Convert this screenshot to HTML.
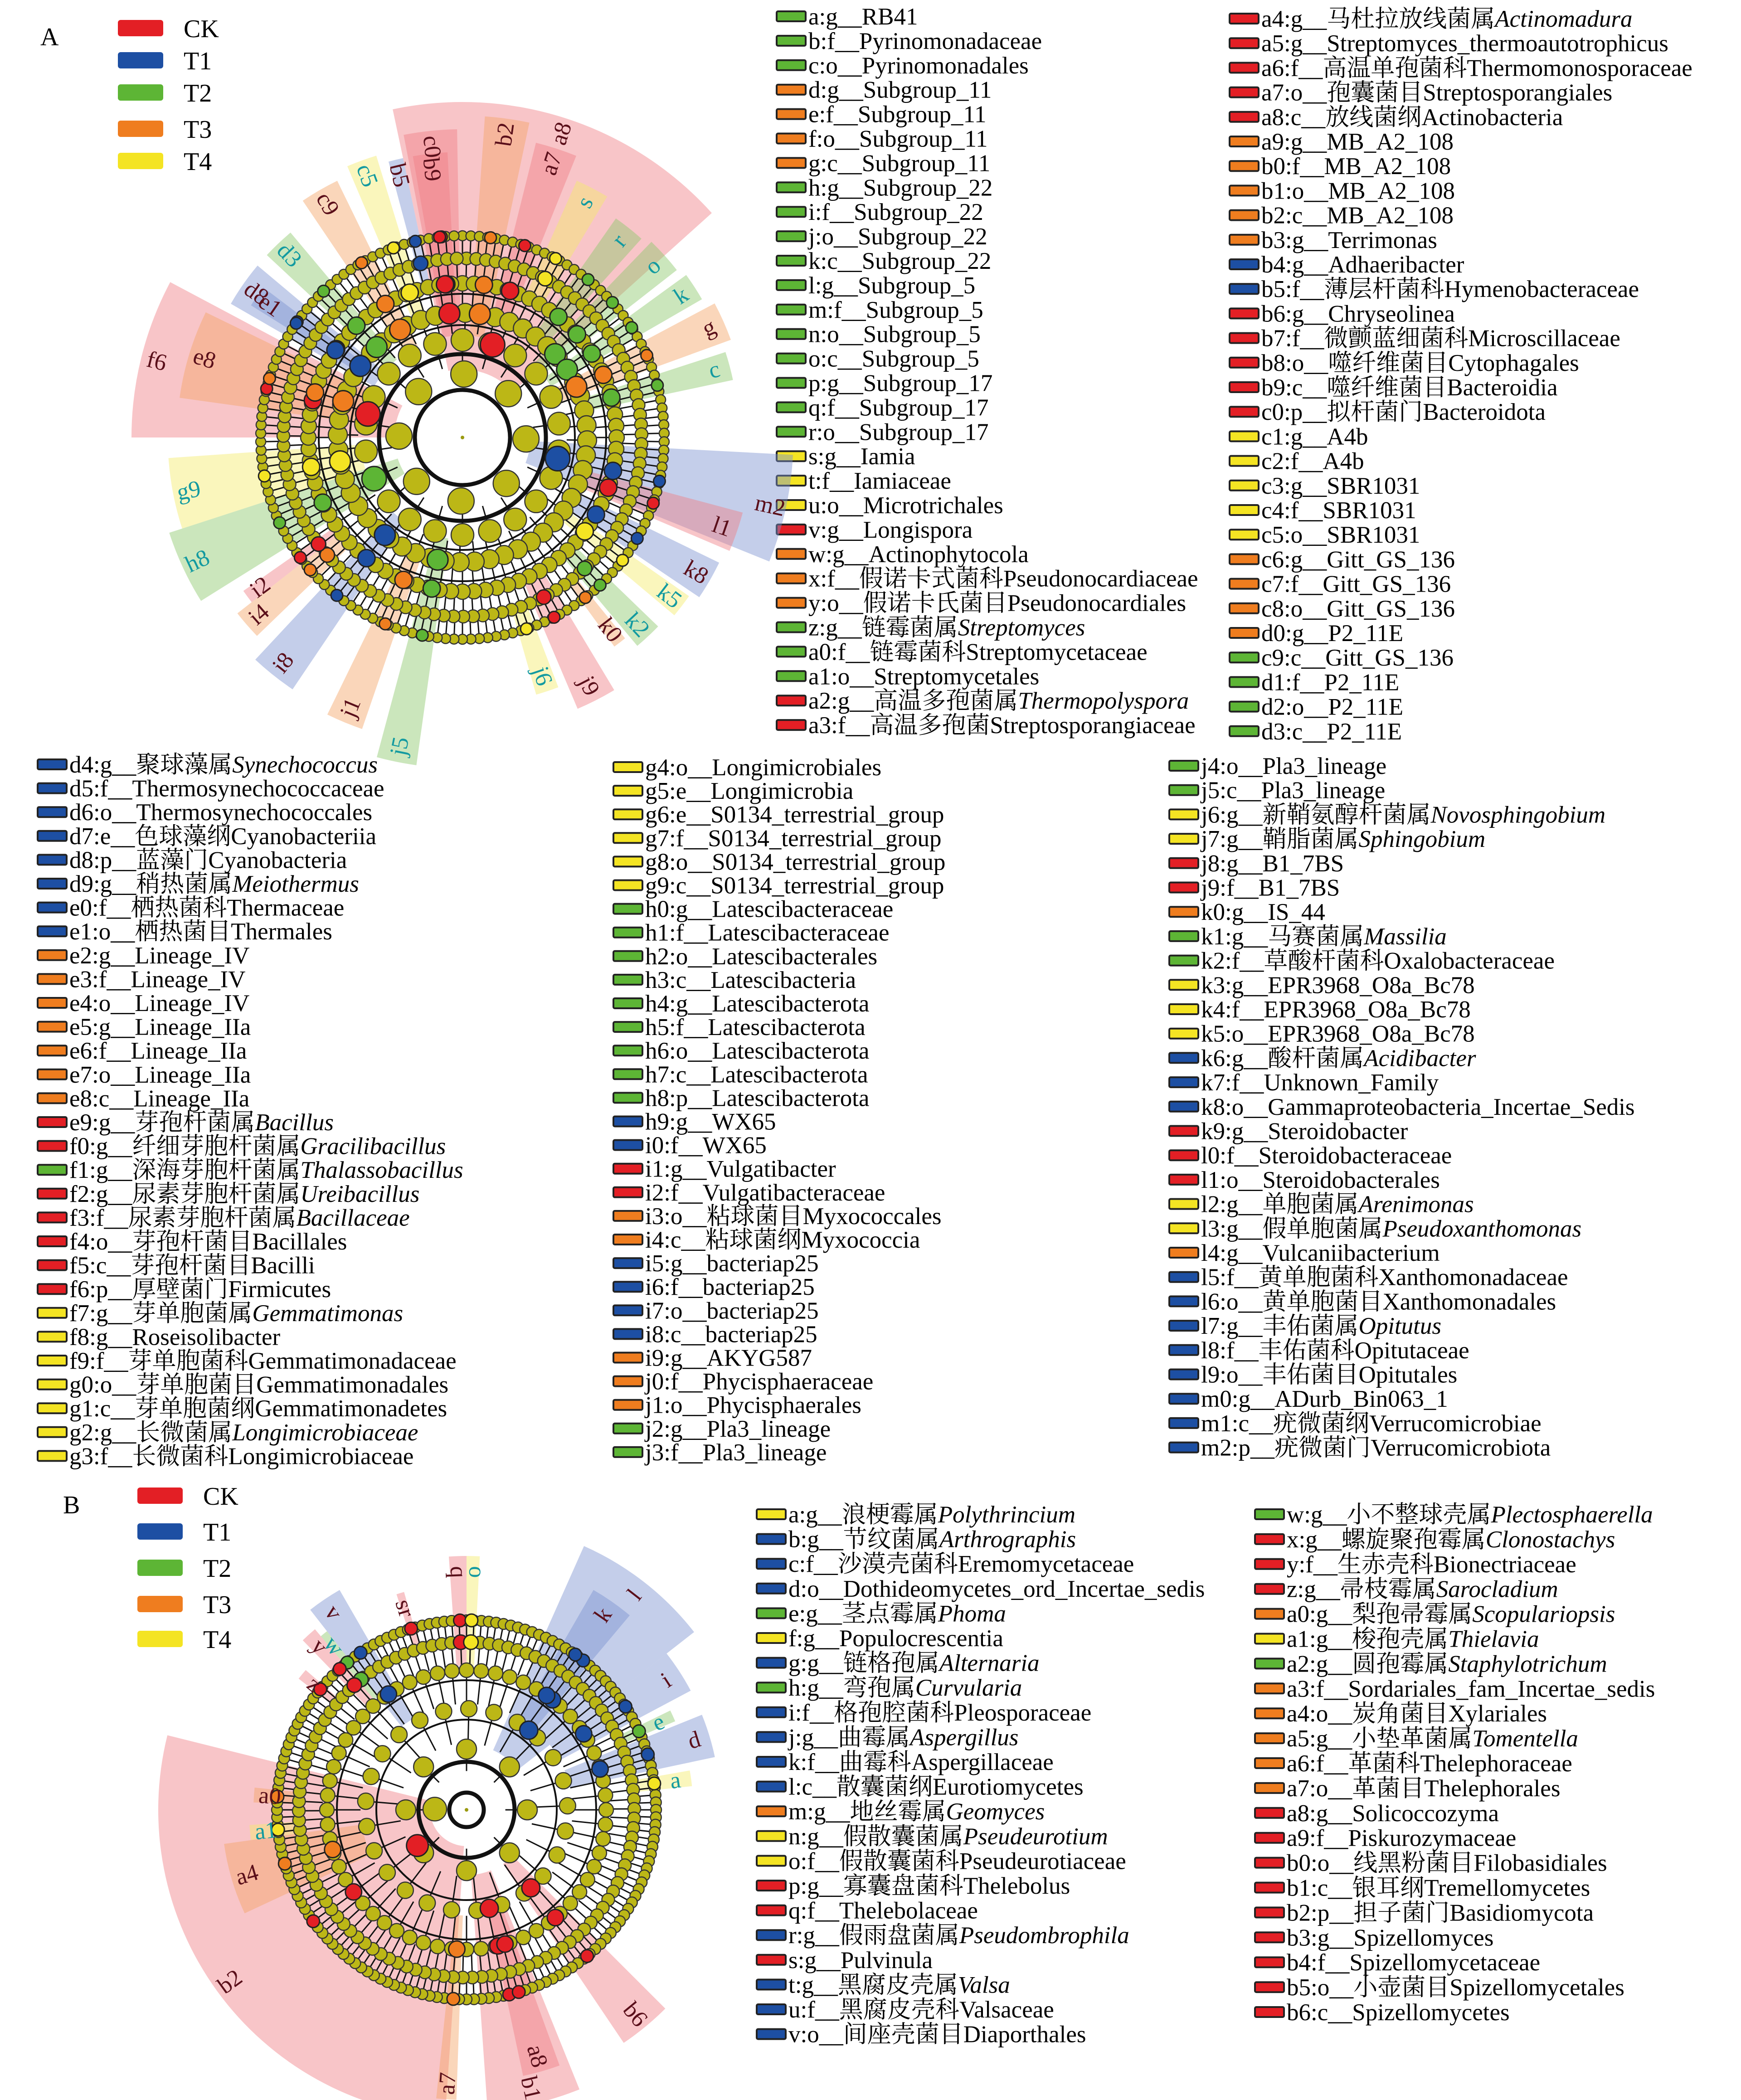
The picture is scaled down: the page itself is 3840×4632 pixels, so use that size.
<!DOCTYPE html>
<html><head><meta charset="utf-8">
<style>
html,body{margin:0;padding:0;background:#fff;}
svg{display:block;}
text{font-family:"Liberation Serif","Noto Serif CJK SC","Noto Sans CJK SC",serif;}
</style></head>
<body>
<svg id="fig" width="3840" height="4632" viewBox="0 0 3840 4632" xmlns="http://www.w3.org/2000/svg">
<rect x="0" y="0" width="3840" height="4632" fill="#fff"/>
<text x="89" y="100" font-size="56">A</text>
<text x="139" y="3338" font-size="56">B</text>
</svg>
<script>
const NS='http://www.w3.org/2000/svg';
const svg=document.getElementById('fig');
const COL={R:'#e31f25',B:'#1d4fa3',G:'#5db535',O:'#ef7d1f',Y:'#f4e423'};
const LIGHT={R:'#ef7f86',B:'#7d93d0',G:'#8cc86a',O:'#f4a366',Y:'#f4ec6a'};
const groupNames=['CK','T1','T2','T3','T4'];
const groupKeys=['R','B','G','O','Y'];

// ---------- legend list data ----------
const topCol1=["a:g__RB41","b:f__Pyrinomonadaceae","c:o__Pyrinomonadales","d:g__Subgroup_11","e:f__Subgroup_11","f:o__Subgroup_11","g:c__Subgroup_11","h:g__Subgroup_22","i:f__Subgroup_22","j:o__Subgroup_22","k:c__Subgroup_22","l:g__Subgroup_5","m:f__Subgroup_5","n:o__Subgroup_5","o:c__Subgroup_5","p:g__Subgroup_17","q:f__Subgroup_17","r:o__Subgroup_17","s:g__Iamia","t:f__Iamiaceae","u:o__Microtrichales","v:g__Longispora","w:g__Actinophytocola","x:f__假诺卡式菌科Pseudonocardiaceae","y:o__假诺卡氏菌目Pseudonocardiales","z:g__链霉菌属|Streptomyces","a0:f__链霉菌科Streptomycetaceae","a1:o__Streptomycetales","a2:g__高温多孢菌属|Thermopolyspora","a3:f__高温多孢菌Streptosporangiaceae"];
const topCol1C="GGGOOOOGGGGGGGGGGGYYYROOOGGGRR";
const topCol2=["a4:g__马杜拉放线菌属|Actinomadura","a5:g__Streptomyces_thermoautotrophicus","a6:f__高温单孢菌科Thermomonosporaceae","a7:o__孢囊菌目Streptosporangiales","a8:c__放线菌纲Actinobacteria","a9:g__MB_A2_108","b0:f__MB_A2_108","b1:o__MB_A2_108","b2:c__MB_A2_108","b3:g__Terrimonas","b4:g__Adhaeribacter","b5:f__薄层杆菌科Hymenobacteraceae","b6:g__Chryseolinea","b7:f__微颤蓝细菌科Microscillaceae","b8:o__噬纤维菌目Cytophagales","b9:c__噬纤维菌目Bacteroidia","c0:p__拟杆菌门Bacteroidota","c1:g__A4b","c2:f__A4b","c3:g__SBR1031","c4:f__SBR1031","c5:o__SBR1031","c6:g__Gitt_GS_136","c7:f__Gitt_GS_136","c8:o__Gitt_GS_136","d0:g__P2_11E","c9:c__Gitt_GS_136","d1:f__P2_11E","d2:o__P2_11E","d3:c__P2_11E"];
const topCol2C="RRRRROOOOOBBRRRRRYYYYYOOOOGGGG";
const midCol1=["d4:g__聚球藻属|Synechococcus","d5:f__Thermosynechococcaceae","d6:o__Thermosynechococcales","d7:e__色球藻纲Cyanobacteriia","d8:p__蓝藻门Cyanobacteria","d9:g__稍热菌属|Meiothermus","e0:f__栖热菌科Thermaceae","e1:o__栖热菌目Thermales","e2:g__Lineage_IV","e3:f__Lineage_IV","e4:o__Lineage_IV","e5:g__Lineage_IIa","e6:f__Lineage_IIa","e7:o__Lineage_IIa","e8:c__Lineage_IIa","e9:g__芽孢杆菌属|Bacillus","f0:g__纤细芽胞杆菌属|Gracilibacillus","f1:g__深海芽胞杆菌属|Thalassobacillus","f2:g__尿素芽胞杆菌属|Ureibacillus","f3:f__尿素芽胞杆菌属|Bacillaceae","f4:o__芽孢杆菌目Bacillales","f5:c__芽孢杆菌目Bacilli","f6:p__厚壁菌门Firmicutes","f7:g__芽单胞菌属|Gemmatimonas","f8:g__Roseisolibacter","f9:f__芽单胞菌科Gemmatimonadaceae","g0:o__芽单胞菌目Gemmatimonadales","g1:c__芽单胞菌纲Gemmatimonadetes","g2:g__长微菌属|Longimicrobiaceae","g3:f__长微菌科Longimicrobiaceae"];
const midCol1C="BBBBBBBBOOOOOOORRGRRRRRYYYYYYY";
const midCol2=["g4:o__Longimicrobiales","g5:e__Longimicrobia","g6:e__S0134_terrestrial_group","g7:f__S0134_terrestrial_group","g8:o__S0134_terrestrial_group","g9:c__S0134_terrestrial_group","h0:g__Latescibacteraceae","h1:f__Latescibacteraceae","h2:o__Latescibacterales","h3:c__Latescibacteria","h4:g__Latescibacterota","h5:f__Latescibacterota","h6:o__Latescibacterota","h7:c__Latescibacterota","h8:p__Latescibacterota","h9:g__WX65","i0:f__WX65","i1:g__Vulgatibacter","i2:f__Vulgatibacteraceae","i3:o__粘球菌目Myxococcales","i4:c__粘球菌纲Myxococcia","i5:g__bacteriap25","i6:f__bacteriap25","i7:o__bacteriap25","i8:c__bacteriap25","i9:g__AKYG587","j0:f__Phycisphaeraceae","j1:o__Phycisphaerales","j2:g__Pla3_lineage","j3:f__Pla3_lineage"];
const midCol2C="YYYYYYGGGGGGGGGBBRROOBBBBOOOGG";
const midCol3=["j4:o__Pla3_lineage","j5:c__Pla3_lineage","j6:g__新鞘氨醇杆菌属|Novosphingobium","j7:g__鞘脂菌属|Sphingobium","j8:g__B1_7BS","j9:f__B1_7BS","k0:g__IS_44","k1:g__马赛菌属|Massilia","k2:f__草酸杆菌科Oxalobacteraceae","k3:g__EPR3968_O8a_Bc78","k4:f__EPR3968_O8a_Bc78","k5:o__EPR3968_O8a_Bc78","k6:g__酸杆菌属|Acidibacter","k7:f__Unknown_Family","k8:o__Gammaproteobacteria_Incertae_Sedis","k9:g__Steroidobacter","l0:f__Steroidobacteraceae","l1:o__Steroidobacterales","l2:g__单胞菌属|Arenimonas","l3:g__假单胞菌属|Pseudoxanthomonas","l4:g__Vulcaniibacterium","l5:f__黄单胞菌科Xanthomonadaceae","l6:o__黄单胞菌目Xanthomonadales","l7:g__丰佑菌属|Opitutus","l8:f__丰佑菌科Opitutaceae","l9:o__丰佑菌目Opitutales","m0:g__ADurb_Bin063_1","m1:c__疣微菌纲Verrucomicrobiae","m2:p__疣微菌门Verrucomicrobiota"];
const midCol3C="GGYYRROGGYYYBBBRRRYYOBBBBBBBB";
const bCol1=["a:g__浪梗霉属|Polythrincium","b:g__节纹菌属|Arthrographis","c:f__沙漠壳菌科Eremomycetaceae","d:o__Dothideomycetes_ord_Incertae_sedis","e:g__茎点霉属|Phoma","f:g__Populocrescentia","g:g__链格孢属|Alternaria","h:g__弯孢属|Curvularia","i:f__格孢腔菌科Pleosporaceae","j:g__曲霉属|Aspergillus","k:f__曲霉科Aspergillaceae","l:c__散囊菌纲Eurotiomycetes","m:g__地丝霉属|Geomyces","n:g__假散囊菌属|Pseudeurotium","o:f__假散囊菌科Pseudeurotiaceae","p:g__寡囊盘菌科Thelebolus","q:f__Thelebolaceae","r:g__假雨盘菌属|Pseudombrophila","s:g__Pulvinula","t:g__黑腐皮壳属|Valsa","u:f__黑腐皮壳科Valsaceae","v:o__间座壳菌目Diaporthales"];
const bCol1C="YBBBGYBGBBBBOYYRRBRBBB";
const bCol2=["w:g__小不整球壳属|Plectosphaerella","x:g__螺旋聚孢霉属|Clonostachys","y:f__生赤壳科Bionectriaceae","z:g__帚枝霉属|Sarocladium","a0:g__梨孢帚霉属|Scopulariopsis","a1:g__梭孢壳属|Thielavia","a2:g__圆孢霉属|Staphylotrichum","a3:f__Sordariales_fam_Incertae_sedis","a4:o__炭角菌目Xylariales","a5:g__小垫革菌属|Tomentella","a6:f__革菌科Thelephoraceae","a7:o__革菌目Thelephorales","a8:g__Solicoccozyma","a9:f__Piskurozymaceae","b0:o__线黑粉菌目Filobasidiales","b1:c__银耳纲Tremellomycetes","b2:p__担子菌门Basidiomycota","b3:g__Spizellomyces","b4:f__Spizellomycetaceae","b5:o__小壶菌目Spizellomycetales","b6:c__Spizellomycetes"];
const bCol2C="GRRROYGOOOOORRRRRRRRR";

// ---------- cladogram sector data: [startDeg, endDeg, outerR, colourKey, label, depth] ----------
const sectorsA=[[-12,48,740,'R','a8',5],[-11,-1,680,'R','c0',4],[-10,-3,630,'R','b9',3],[4,12,710,'O','b2',4],[14,22,670,'R','a7',3],[24,31,620,'Y','s',2],[35,42,590,'G','r',3],[44,52,600,'G','o',4],[54,60,610,'G','k',4],[62,70,630,'O','g',4],[72,78,610,'G','c',3],[93,112,730,'B','m2',5],[105,113,640,'R','l1',3],[116,124,630,'B','k8',3],[125,130,610,'Y','k5',3],[134,140,600,'G','k2',2],[141,144,570,'O','k0',1],[149,157,650,'R','j9',2],[159,164,590,'Y','j6',1],[188,195,730,'G','j5',4],[199,206,680,'O','j1',3],[214,223,670,'B','i8',4],[226,232,630,'O','i4',2],[232,235,590,'R','i2',2],[238,252,680,'G','h8',5],[252,266,650,'Y','g9',4],[-90,-62,730,'R','f6',5],[-82,-64,630,'O','e8',4],[-60,-50,590,'B','d8',4],[-58,-53,550,'B','e1',3],[-47,-40,590,'G','d3',4],[-34,-26,630,'O','c9',4],[-23,-17,650,'Y','c5',3],[-15,-12,630,'B','b5',2]];
const sectorsB=[[24,52,637,'B','l',4],[30,40,560,'B','k',3],[52,62,560,'B','i',3],[64,67,500,'G','e',1],[68,78,560,'B','d',3],[80,84,500,'Y','a',1],[184,284,680,'R','b2',5],[158,176,665,'R','b1',4],[160,168,600,'R','a8',3],[135,146,620,'R','b6',4],[182,186,640,'O','a7',3],[245,262,540,'O','a4',3],[262,266,480,'Y','a1',1],[272,276,470,'O','a0',1],[-4,0,560,'R','q',2],[0,3,560,'Y','o',2],[-18,-16,500,'R','sr',1],[-38,-30,560,'B','v',3],[-40,-38,500,'G','w',2],[-44,-40,520,'R','y',2],[-52,-49,470,'R','z',1]];

function el(tag,parent){const e=document.createElementNS(NS,tag);parent.appendChild(e);return e;}

// ---------- legend columns ----------
function legendCol(items,colors,sx,y0,dy,name){
  const g=el('g',svg);
  
  
  items.forEach((s,i)=>{
    const cy=y0+i*dy;
    const r=el('rect',g);
    r.setAttribute('x',sx);r.setAttribute('y',cy-11);r.setAttribute('width',64);r.setAttribute('height',22);
    r.setAttribute('rx',3);r.setAttribute('fill',COL[colors[i]]);r.setAttribute('stroke','#222');r.setAttribute('stroke-width',4);
    
    
    const t=el('text',g);
    t.setAttribute('x',sx+70);t.setAttribute('y',cy+18);t.setAttribute('font-size',53);
    
    
    const parts=s.split('|');
    const a=el('tspan',t);a.textContent=parts[0];
    if(parts[1]){const b=el('tspan',t);b.setAttribute('font-style','italic');b.textContent=parts[1];}
  });
}
legendCol(topCol1,topCol1C,1713,36,53.9,'legend-a-column-1');
legendCol(topCol2,topCol2C,2712,41,54.2,'legend-a-column-2');
legendCol(midCol1,midCol1C,83,1686,52.6,'legend-a-column-3');
legendCol(midCol2,midCol2C,1353,1692,52.1,'legend-a-column-4');
legendCol(midCol3,midCol3C,2579,1689,53.7,'legend-a-column-5');
legendCol(bCol1,bCol1C,1669,3340,54.6,'legend-b-column-1');
legendCol(bCol2,bCol2C,2768,3340,54.9,'legend-b-column-2');

// ---------- group keys ----------
function groupKey(x,ys,name){
  const g=el('g',svg);
  
  
  groupNames.forEach((n,i)=>{
    const r=el('rect',g);
    r.setAttribute('x',x);r.setAttribute('y',ys[i]-18);r.setAttribute('width',100);r.setAttribute('height',36);
    r.setAttribute('rx',6);r.setAttribute('fill',COL[groupKeys[i]]);
    
    
    const t=el('text',g);
    t.setAttribute('x',x+145);t.setAttribute('y',ys[i]+20);t.setAttribute('font-size',56);
    t.textContent=n;
    
    
  });
}
groupKey(260,[62,133,204,284,355],'group-legend-a');
groupKey(303,[3299,3378,3458,3538,3615],'group-legend-b');

// ---------- cladograms ----------
function pol(cx,cy,r,d){const a=d*Math.PI/180;return [cx+r*Math.sin(a),cy-r*Math.cos(a)];}
function wedgePath(cx,cy,r0,r1,a0,a1){
  const p1=pol(cx,cy,r0,a0),p2=pol(cx,cy,r1,a0),p3=pol(cx,cy,r1,a1),p4=pol(cx,cy,r0,a1);
  const lg=(a1-a0)>180?1:0;
  return `M${p1}L${p2}A${r1},${r1} 0 ${lg} 1 ${p3}L${p4}A${r0},${r0} 0 ${lg} 0 ${p1}Z`;
}
function clado(cx,cy,radii,counts,sizes,sectors,name){
  const g=el('g',svg);
  
  
  sectors.forEach(s=>{
    const inner=radii[Math.min(s[5],radii.length-1)]+10;
    const p=el('path',g);
    p.setAttribute('d',wedgePath(cx,cy,inner,s[2],s[0],s[1]));
    p.setAttribute('fill',LIGHT[s[3]]);p.setAttribute('fill-opacity',0.45);
    
    
  });
  for(let k=0;k<radii.length-1;k++){
    const n=counts[k];
    for(let i=0;i<n;i++){
      const a=i*360/n+(k%2)*1.3;
      const q1=pol(cx,cy,radii[k],a),q2=pol(cx,cy,radii[k+1]+sizes[k+1]*0.6,a);
      const l=el('line',g);
      l.setAttribute('x1',q1[0]);l.setAttribute('y1',q1[1]);l.setAttribute('x2',q2[0]);l.setAttribute('y2',q2[1]);
      l.setAttribute('stroke','#111');l.setAttribute('stroke-width',3);
      
      
    }
  }
  for(let k=2;k<radii.length;k++){
    const c=el('circle',g);
    c.setAttribute('cx',cx);c.setAttribute('cy',cy);c.setAttribute('r',radii[k]-sizes[k]-6);
    c.setAttribute('fill','none');c.setAttribute('stroke','#111');c.setAttribute('stroke-width',k>=radii.length-2?9:4);
    
    
  }
  for(let k=0;k<radii.length;k++){
    const n=counts[k];
    for(let i=0;i<n;i++){
      const a=i*360/n+(k%2)*1.3+(n===1?-90:0);
      const q=pol(cx,cy,radii[k],a);
      const c=el('circle',g);
      c.setAttribute('cx',q[0]);c.setAttribute('cy',q[1]);c.setAttribute('r',sizes[k]);
      c.setAttribute('fill','#bcb716');c.setAttribute('stroke','#333');c.setAttribute('stroke-width',2.5);
      
      
    }
  }
  sectors.forEach(s=>{
    const mid=(s[0]+s[1])/2;
    const ks=[0];
    if(s[5]>1) ks.push(s[5]-1);
    if(s[5]>=4) ks.push(Math.floor(s[5]/2));
    ks.forEach(k=>{
      if(k>=radii.length) return;
      const q=pol(cx,cy,radii[k],mid);
      const c=el('circle',g);
      c.setAttribute('cx',q[0]);c.setAttribute('cy',q[1]);c.setAttribute('r',sizes[k]+2);
      c.setAttribute('fill',COL[s[3]]);c.setAttribute('stroke','#222');c.setAttribute('stroke-width',3);
      
      
    });
    const lp=pol(cx,cy,s[2]-35,mid);
    const t=el('text',g);
    const rot=(mid%360+360)%360<180?mid-90:mid+90;
    t.setAttribute('x',lp[0]);t.setAttribute('y',lp[1]);t.setAttribute('font-size',52);
    t.setAttribute('text-anchor','middle');t.setAttribute('dominant-baseline','central');
    t.setAttribute('fill',s[3]==='Y'||s[3]==='G'?'#139aa0':'#5a0f1a');
    t.setAttribute('transform',`rotate(${rot} ${lp[0]} ${lp[1]})`);
    t.textContent=s[4];
    
    
  });
  const d=el('circle',g);
  d.setAttribute('cx',cx);d.setAttribute('cy',cy);d.setAttribute('r',4);d.setAttribute('fill','#9a9a10');
  
  
}
clado(1020,965,[445,395,340,275,215,140],[150,115,84,52,22,8],[11,14,17,21,25,29],sectorsA,'cladogram-a');
clado(1029,3992,[418,370,308,223,134,70],[160,110,60,25,8,1],[12,14,16,18,22,26],sectorsB,'cladogram-b');
</script>
</body></html>
